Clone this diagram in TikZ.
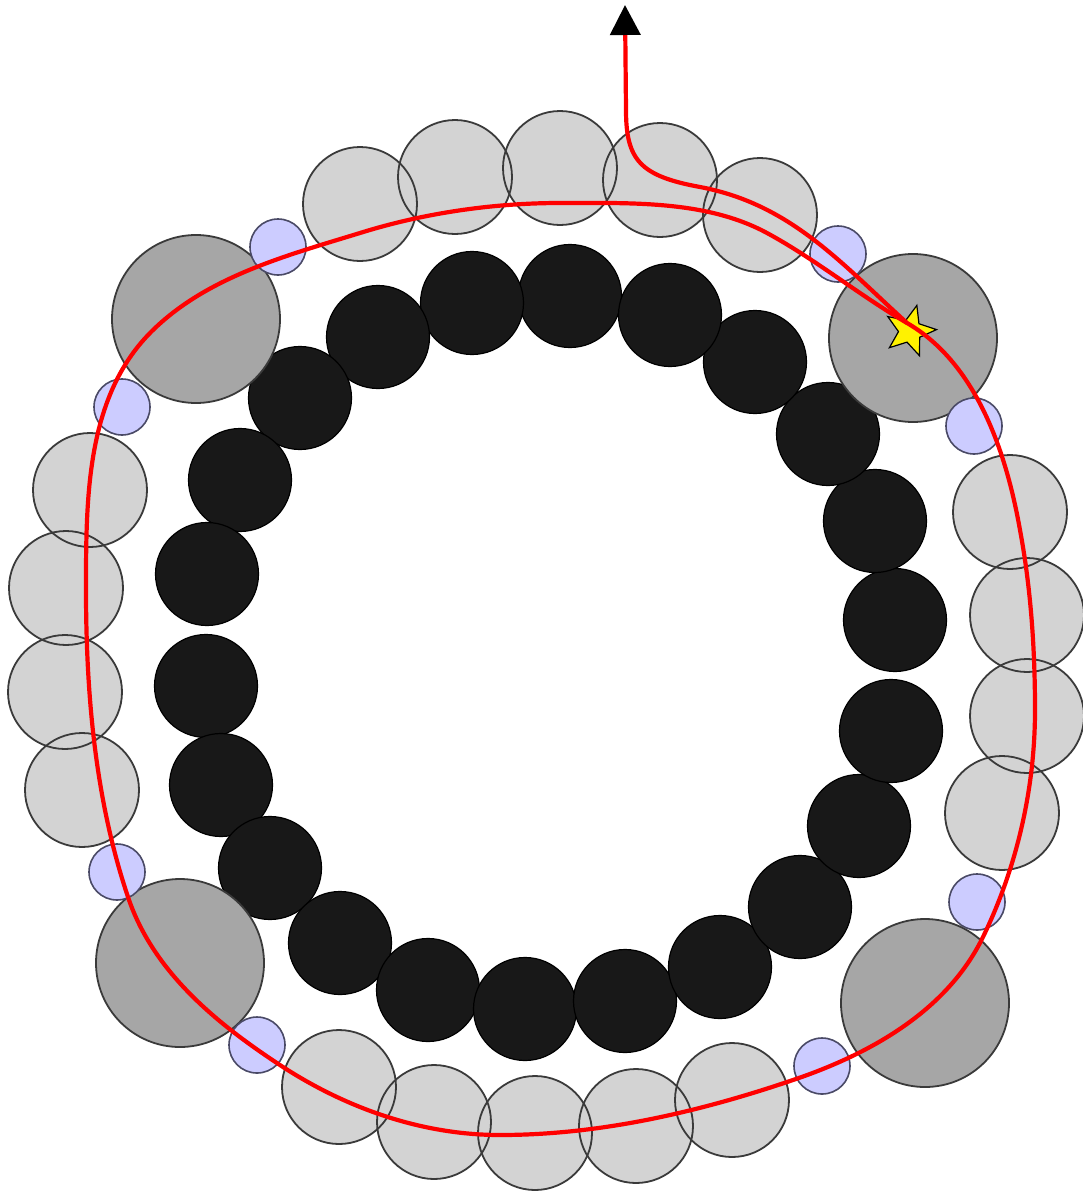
\documentclass[tikz,border=0pt]{standalone}
\usetikzlibrary{shapes.geometric,arrows.meta}
\definecolor{blk}{HTML}{181818}
\definecolor{lgray}{HTML}{D3D3D3}
\definecolor{dgray}{HTML}{A6A6A6}
\definecolor{lav}{HTML}{CCCCFF}
\definecolor{edgec}{HTML}{3A3A3A}
\definecolor{lavedge}{HTML}{4A4A66}
\begin{document}
\begin{tikzpicture}[x=1pt,y=-1pt,
  blackbead/.style={circle,fill=blk,draw=black,line width=1.2pt,minimum size=103pt,inner sep=0pt},
  lightfill/.style={circle,fill=lgray,minimum size=114pt,inner sep=0pt},
  lightedge/.style={draw=edgec,line width=1.8pt},
  darkbead/.style={circle,fill=dgray,draw=edgec,line width=1.8pt,minimum size=168pt,inner sep=0pt},
  lavbead/.style={circle,fill=lav,draw=lavedge,line width=1.6pt,minimum size=56pt,inner sep=0pt},
  redpath/.style={draw=red,line width=4.2pt},
  starmark/.style={star,star points=5,star point ratio=2.3,fill=yellow,draw=black,line width=1.2pt,minimum size=53pt,inner sep=0pt,rotate=-15}]
\useasboundingbox (0,0) rectangle (1083,1191);

% inner ring of black circles
\foreach \p [count=\i] in {(570,296),(472,303),(378,337),(300,398),(240,480),(207,574),(206,686),(221,785),(270,868),(340,943),(428,990),(525,1009),(625,1001),(720,967),(800,907),(859,826),(891,731),(895,620),(875,521),(828,434),(755,362),(670,315)}
  \node[blackbead] (b\i) at \p {};

% outer light gray circles: fills, then outlines
\foreach \p [count=\i] in {(360,204),(455,177),(560,168),(660,180),(760,215),(1010,512),(1027,615),(1027,716),(1002,813),(339,1087),(434,1122),(535,1133),(636,1126),(732,1100),(90,490),(66,588),(65,692),(82,790)}
  \node[lightfill] (g\i) at \p {};
\foreach \i in {1,...,18}
  \draw[lightedge] (g\i.center) circle[radius=57];

% large dark gray circles
\foreach \p [count=\i] in {(196,319),(913,338),(180,963),(925,1003)}
  \node[darkbead] (d\i) at \p {};

% small lavender circles
\foreach \p [count=\i] in {(278,247),(838,254),(122,407),(974,426),(117,872),(977,902),(257,1045),(822,1066)}
  \node[lavbead] (l\i) at \p {};

% star
\node[starmark] (st) at (910,331) {};
\coordinate (exit) at (625,5);

% closed red loop
\draw[redpath] (560,203) .. controls (630,203) and (706,200) .. (767,233)
  .. controls (815,259) and (859,295) .. (907,323)
  .. controls (976,363) and (1006,451) .. (1020,530)
  .. controls (1031,589) and (1035,650) .. (1035,710)
  .. controls (1035,788) and (1017,867) .. (983,937)
  .. controls (947,1011) and (870,1054) .. (793,1080)
  .. controls (699,1112) and (600,1135) .. (500,1135)
  .. controls (423,1135) and (348,1109) .. (283,1067)
  .. controls (217,1024) and (153,972) .. (128,897)
  .. controls (95,799) and (86,693) .. (86,590)
  .. controls (86,498) and (86,397) .. (151,332)
  .. controls (206,277) and (285,256) .. (360,233)
  .. controls (424,213) and (493,203) .. cycle;

% exit path with arrow
\draw[redpath,-{Triangle[length=30pt,width=30pt,color=black]}]
  (907,323) .. controls (840,262) and (790,204) .. (700,187)
  .. controls (640,176) and (626,160) .. (626,110) -- (exit);
\end{tikzpicture}
\end{document}
